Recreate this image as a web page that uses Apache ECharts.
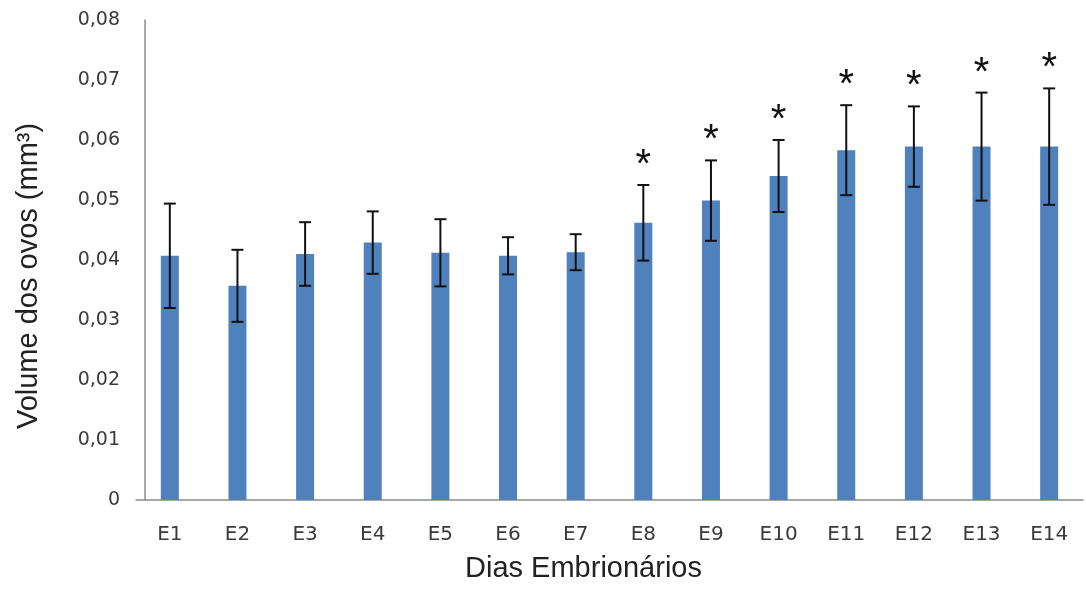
<!DOCTYPE html>
<html>
<head>
<meta charset="utf-8">
<script src="https://cdn.jsdelivr.net/npm/echarts@6/dist/echarts.min.js"></script>
<style>html,body{margin:0;padding:0;background:#fff}#c{width:1086px;height:601px}</style>
</head>
<body>
<div id="c"></div>
<script>
const categories = ['E1','E2','E3','E4','E5','E6','E7','E8','E9','E10','E11','E12','E13','E14'];
const means = [0.0407,0.0357,0.0410,0.0429,0.0412,0.0407,0.0413,0.0462,0.0499,0.0540,0.0583,0.0589,0.0589,0.0589];
const errors = [0.0087,0.0060,0.0053,0.0052,0.0056,0.0031,0.0030,0.0063,0.0067,0.0060,0.0075,0.0067,0.0090,0.0097];
const significant = [0,0,0,0,0,0,0,1,1,1,1,1,1,1];
const yTicks = [0,0.01,0.02,0.03,0.04,0.05,0.06,0.07,0.08];

const chart = echarts.init(document.getElementById('c'));
const errData = means.map((m,i)=>[i, m - errors[i], m + errors[i], significant[i]]);
chart.setOption({
  animation:false,
  grid:{left:136,right:3,top:20,bottom:101},
  xAxis:{
    type:'category', data:categories,
    axisLine:{lineStyle:{color:'#8c8c8c',width:1.5}},
    axisTick:{show:false},
    axisLabel:{color:'#3a3a3a',fontSize:20,margin:25,fontFamily:'DejaVu Sans'},
    name:'Dias Embrionários', nameLocation:'middle', nameGap:54,
    nameTextStyle:{color:'#222',fontSize:29,fontFamily:'Liberation Sans',padding:[0,52,0,0]}
  },
  yAxis:{
    type:'value', min:0, max:0.08, interval:0.01, offset:-9,
    axisLine:{show:true,lineStyle:{color:'#8c8c8c',width:1.5}},
    axisTick:{show:false},
    splitLine:{show:false},
    axisLabel:{color:'#3a3a3a',fontSize:19,margin:25,fontFamily:'DejaVu Sans',
      formatter:v=>{const t=yTicks.find(x=>Math.abs(x-v)<1e-9);return t===0?'0':t.toFixed(2).replace('.',',');}},
    name:'Volume dos ovos (mm³)', nameLocation:'middle', nameGap:102,
    nameTextStyle:{color:'#222',fontSize:29,fontFamily:'Liberation Sans',padding:[0,32,0,0]}
  },
  series:[
    {type:'bar', data:means, barWidth:18, itemStyle:{color:'#4F81BD'}},
    {type:'custom', data:errData, z:10,
      renderItem:function(params, api){
        const x = api.value(0);
        const lo = api.coord([x, api.value(1)]);
        const hi = api.coord([x, api.value(2)]);
        const hw = 6;
        const st = {stroke:'#111', lineWidth:2};
        const children = [
          {type:'line',shape:{x1:hi[0],y1:hi[1],x2:lo[0],y2:lo[1]},style:st},
          {type:'line',shape:{x1:hi[0]-hw,y1:hi[1],x2:hi[0]+hw,y2:hi[1]},style:st},
          {type:'line',shape:{x1:lo[0]-hw,y1:lo[1],x2:lo[0]+hw,y2:lo[1]},style:st}
        ];
        if (api.value(3)) {
          children.push({type:'text',style:{text:'*',x:hi[0],y:hi[1]+1,align:'center',verticalAlign:'bottom',
            fontSize:40,fontFamily:'Liberation Sans',fill:'#111'}});
        }
        return {type:'group',children:children};
      }
    }
  ]
});
</script>
</body>
</html>
